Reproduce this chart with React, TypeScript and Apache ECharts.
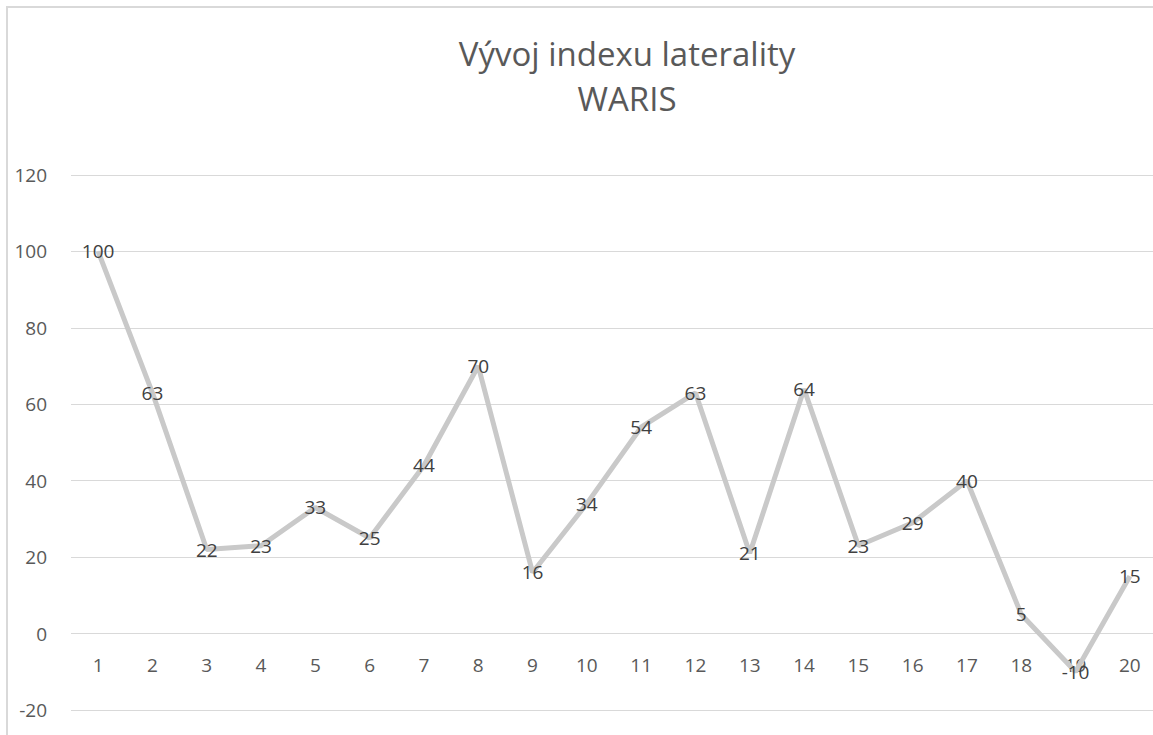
import React, { useEffect, useRef } from "react";
import * as echarts from "echarts";

const titleLines = ["Vývoj indexu laterality", "WARIS"];
const categories = ["1","2","3","4","5","6","7","8","9","10","11","12","13","14","15","16","17","18","19","20"];
const values = [100, 63, 22, 23, 33, 25, 44, 70, 16, 34, 54, 63, 21, 64, 23, 29, 40, 5, -10, 15];
const yMin = -20;
const yMax = 120;
const yInterval = 20;

const FONT = "'Open Sans', 'Noto Sans', sans-serif";

const CHART_H = 731;
const GRID_TOP = 167;
const GRID_BOTTOM = 29;

export default function App() {
  const ref = useRef<HTMLDivElement>(null);
  useEffect(() => {
    if (!ref.current) return;
    const chart = echarts.init(ref.current, undefined, { renderer: "svg" });
    const gridH = CHART_H - GRID_TOP - GRID_BOTTOM;
    const zeroFromBottom = ((0 - yMin) / (yMax - yMin)) * gridH;
    chart.setOption({
      animation: false,
      backgroundColor: "#ffffff",
      title: {
        text: titleLines.join("\n"),
        left: 614,
        top: 18,
        textAlign: "center",
        textStyle: {
          fontFamily: FONT,
          fontSize: 33,
          fontWeight: "normal",
          color: "#595959",
          lineHeight: 45,
        },
      },
      grid: {
        left: 63,
        right: 7,
        top: GRID_TOP,
        bottom: GRID_BOTTOM,
        containLabel: false,
        outerBoundsMode: "none",
      },
      xAxis: {
        type: "category",
        data: categories,
        boundaryGap: true,
        offset: -zeroFromBottom,
        axisLine: { show: false, onZero: false },
        axisTick: { show: false },
        axisLabel: { margin: 22, fontFamily: FONT, fontSize: 19, color: "#595959" },
        splitLine: { show: false },
      },
      yAxis: {
        type: "value",
        min: yMin,
        max: yMax,
        interval: yInterval,
        axisLine: { show: false },
        axisTick: { show: false },
        axisLabel: { margin: 24, fontFamily: FONT, fontSize: 19, color: "#595959" },
        splitLine: { lineStyle: { color: "#d9d9d9", width: 1 } },
      },
      series: [
        {
          type: "line",
          data: values,
          symbol: "circle",
          symbolSize: 1,
          showSymbol: true,
          itemStyle: { color: "#c9c9c9" },
          lineStyle: { color: "#c9c9c9", width: 5 },
          label: {
            show: true,
            position: "inside",
            fontFamily: FONT,
            fontSize: 19,
            color: "#404040",
          },
        },
      ],
    });
    return () => chart.dispose();
  }, []);
  return (
    <div style={{ position: "absolute", left: 0, top: 0, width: 1153, height: 735, overflow: "hidden", background: "#fff" }}>
      <div
        style={{
          position: "absolute",
          left: 6,
          top: 6,
          width: 1160,
          height: 735,
          border: "2px solid #d9d9d9",
          boxSizing: "border-box",
        }}
      >
        <div ref={ref} style={{ position: "absolute", left: 0, top: 0, width: 1156, height: CHART_H }} />
      </div>
    </div>
  );
}
